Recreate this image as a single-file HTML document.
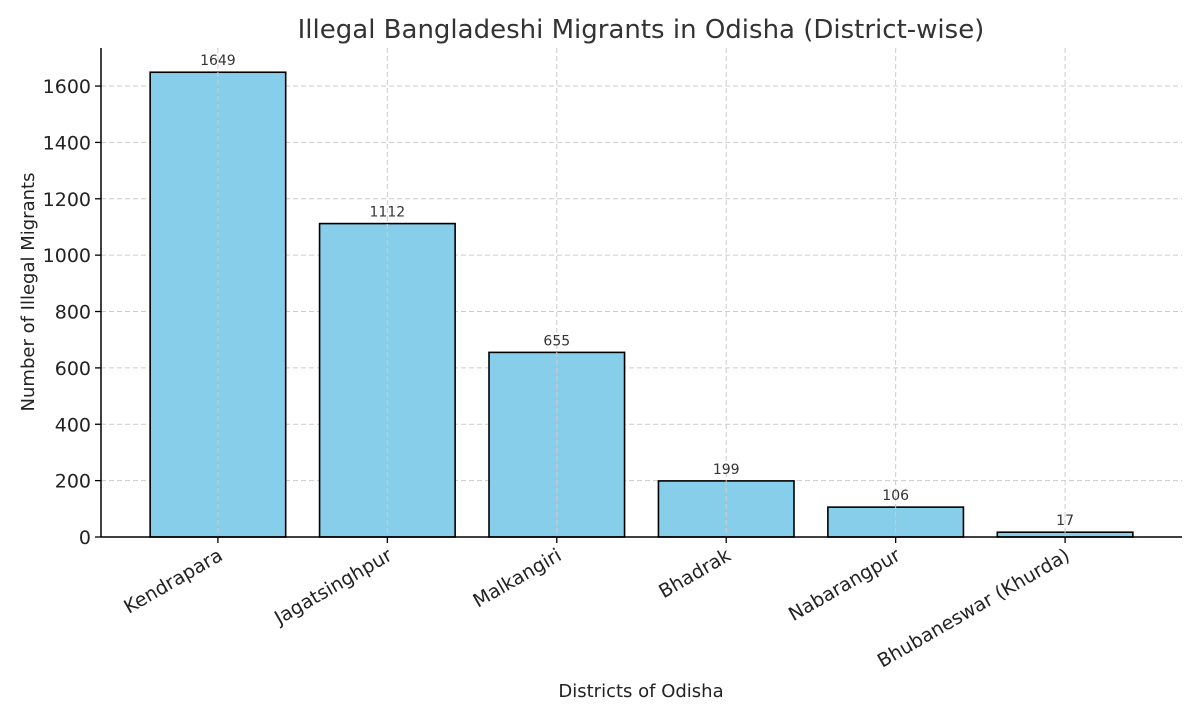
<!DOCTYPE html>
<html><head><meta charset="utf-8"><style>
body{margin:0;background:#fff;}
svg text{font-family:"DejaVu Sans","Liberation Sans",sans-serif;}
</style></head><body>
<svg id="chart" width="1200" height="720" xmlns="http://www.w3.org/2000/svg">
<text x="641" y="38" text-anchor="middle" font-size="26" fill="#333">Illegal Bangladeshi Migrants in Odisha (District-wise)</text>
<text x="641" y="697" text-anchor="middle" font-size="18" fill="#222">Districts of Odisha</text>
<text transform="translate(34,292) rotate(-90)" text-anchor="middle" font-size="18" fill="#222">Number of Illegal Migrants</text>
<g id="grid"></g><g id="bars"></g><g id="axes"></g>
</svg>
<script>
const categories=["Kendrapara","Jagatsinghpur","Malkangiri","Bhadrak","Nabarangpur","Bhubaneswar (Khurda)"];
const values=[1649,1112,655,199,106,17];
const yTicks=[0,200,400,600,800,1000,1200,1400,1600];
const L=101,R=1182,T=48,B=537;
const xMin=-0.69,xMax=categories.length-1+0.69,yMax=1735;
const x=i=>L+(i-xMin)/(xMax-xMin)*(R-L);
const y=v=>B-v/yMax*(B-T);
const bw=0.8*(x(1)-x(0));
const NS="http://www.w3.org/2000/svg";
function mk(t,a,p){const e=document.createElementNS(NS,t);for(const k in a)e.setAttribute(k,a[k]);p.appendChild(e);return e;}
const grid=document.getElementById('grid'),bars=document.getElementById('bars'),axes=document.getElementById('axes');
yTicks.forEach(v=>{
 const g=mk('line',{x1:L,x2:R,y1:y(v),y2:y(v),stroke:'#ccc','stroke-dasharray':'5,3','stroke-width':1},grid);
 
 
 const t=mk('line',{x1:L-6,x2:L,y1:y(v),y2:y(v),stroke:'#000','stroke-width':1.3},axes);
 
 
 const l=mk('text',{x:L-10,y:y(v)+7,'text-anchor':'end','font-size':19,fill:'#222'},axes);
 l.textContent=v;
 
 
});
categories.forEach((c,i)=>{
 const cx=x(i);
 const r=mk('rect',{x:cx-bw/2,y:y(values[i]),width:bw,height:B-y(values[i]),fill:'#87ceeb',stroke:'#000','stroke-width':1.6},bars);
 
 
 const g=mk('line',{x1:cx,x2:cx,y1:T,y2:B,stroke:'#ccc','stroke-dasharray':'5,3','stroke-width':1},bars);
 
 
 const v=mk('text',{x:cx,y:y(values[i])-7,'text-anchor':'middle','font-size':14,fill:'#333'},bars);
 v.textContent=values[i];
 
 
 const t=mk('line',{x1:cx,x2:cx,y1:B,y2:B+6,stroke:'#000','stroke-width':1.3},axes);
 
 
 const l=mk('text',{x:0,y:0,'text-anchor':'end','font-size':19,fill:'#222',transform:`translate(${cx+6},${B+22}) rotate(-30)`},axes);
 l.textContent=c;
 
 
});
const ya=mk('line',{x1:L,x2:L,y1:T,y2:B,stroke:'#000','stroke-width':1.5},axes);


const xa=mk('line',{x1:L,x2:R,y1:B,y2:B,stroke:'#000','stroke-width':1.5},axes);


</script>
</body></html>
